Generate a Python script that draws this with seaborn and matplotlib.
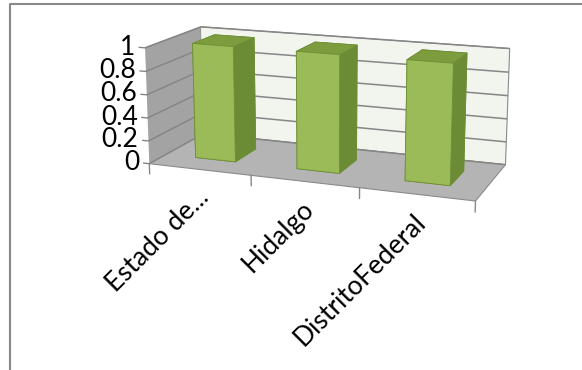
import numpy as np
import pandas as pd
import matplotlib
matplotlib.use("Agg")
import matplotlib.pyplot as plt
from matplotlib.lines import Line2D
from mpl_toolkits.mplot3d import proj3d
import seaborn as sns

# values shown on the chart
categories = ["Estado de...", "Hidalgo", "DistritoFederal"]
values = [1.0, 1.0, 1.0]
z_ticks = [0, 0.2, 0.4, 0.6, 0.8, 1]
z_tick_labels = ["0", "0.2", "0.4", "0.6", "0.8", "1"]

df = pd.DataFrame({"category": categories, "value": values})

sns.set_theme(style="white")
plt.rcParams["font.family"] = ["Lato", "DejaVu Sans"]

FRONT = "#9BBB59"
TOP = "#7C9C3E"
SIDE = "#6B8B34"
EDGE = "#6F8F36"
GRID = "#868686"

fig = plt.figure(figsize=(5.82, 3.70), dpi=100)
fig.patch.set_facecolor("white")

W, H = 582.0, 370.0
S = 380.0
cx, cy = 322.0, 112.0
ax = fig.add_axes([(cx - S / 2) / W, 1 - (cy + S / 2) / H, S / W, S / H],
                  projection="3d")
ax.set_facecolor("none")

n = len(df)
bar_w, bar_d = 0.4, 0.45
depth = 1.1
xpos = np.arange(n) + 0.5 - bar_w / 2
ypos = np.full(n, (depth - bar_d) / 2)
# face order per bar: bottom, top, front, back, left, right
face_colors = [FRONT, TOP, FRONT, FRONT, FRONT, SIDE] * n
ax.bar3d(xpos, ypos, np.zeros(n), bar_w, bar_d, df["value"].to_numpy(),
         color=face_colors, shade=False, edgecolor=EDGE, linewidth=0.6)

# walls and floor
ax.xaxis.set_pane_color("#A3A3A3")
ax.yaxis.set_pane_color("#F1F5EE")
ax.zaxis.set_pane_color("#B4B4B4")
for axis in (ax.xaxis, ax.yaxis, ax.zaxis):
    axis.pane.set_edgecolor("#8A8A8A")
    axis.pane.set_linewidth(0.8)
    axis.line.set_visible(False)
    axis._axinfo["tick"]["inward_factor"] = 0.0
    axis._axinfo["tick"]["outward_factor"] = 0.0

ax.set_xticks([])
ax.set_yticks([])
ax.set_zticks(z_ticks)
ax.set_zticklabels([])
ax.zaxis._axinfo["grid"].update(color=GRID, linewidth=1.1)

# value axis ticks and labels on the front-left edge
for z, lab in zip(z_ticks, z_tick_labels):
    ax.plot([-0.06, 0.0], [0, 0], [z, z], color=GRID, lw=1.0)
    ax.text(-0.1, 0, z, lab, ha="right", va="center", fontsize=19,
            color="black")

# category ticks under the front floor edge
for b in range(n + 1):
    ax.plot([b, b], [0, 0], [0, -0.09], color=GRID, lw=1.0)

ax.set_xlim(0, n)
ax.set_ylim(0, depth)
ax.set_zlim(0, 1)
ax.set_box_aspect((3, depth, 1.06), zoom=0.97)
ax.set_proj_type("persp", focal_length=0.6)
ax.view_init(elev=14, azim=-69.3)
ax.grid(True)

# category labels, rotated, hanging below the front floor edge
M = ax.get_proj()
for i, cat in enumerate(df["category"]):
    px, py, _ = proj3d.proj_transform(i + 0.5, 0, 0, M)
    ax.annotate(cat, xy=(px, py), xycoords="data",
                xytext=(4, -17), textcoords="offset points",
                rotation=45, rotation_mode="anchor", ha="right", va="center",
                fontsize=19, color="black", annotation_clip=False)

# chart area border
bx = 10.5 / W
by = 1 - 3.8 / H
fig.add_artist(Line2D([bx, bx, 1.0], [0.0, by, by], transform=fig.transFigure,
                      color="#888888", lw=1.5))

fig.savefig("out.png", dpi=100, facecolor="white")
